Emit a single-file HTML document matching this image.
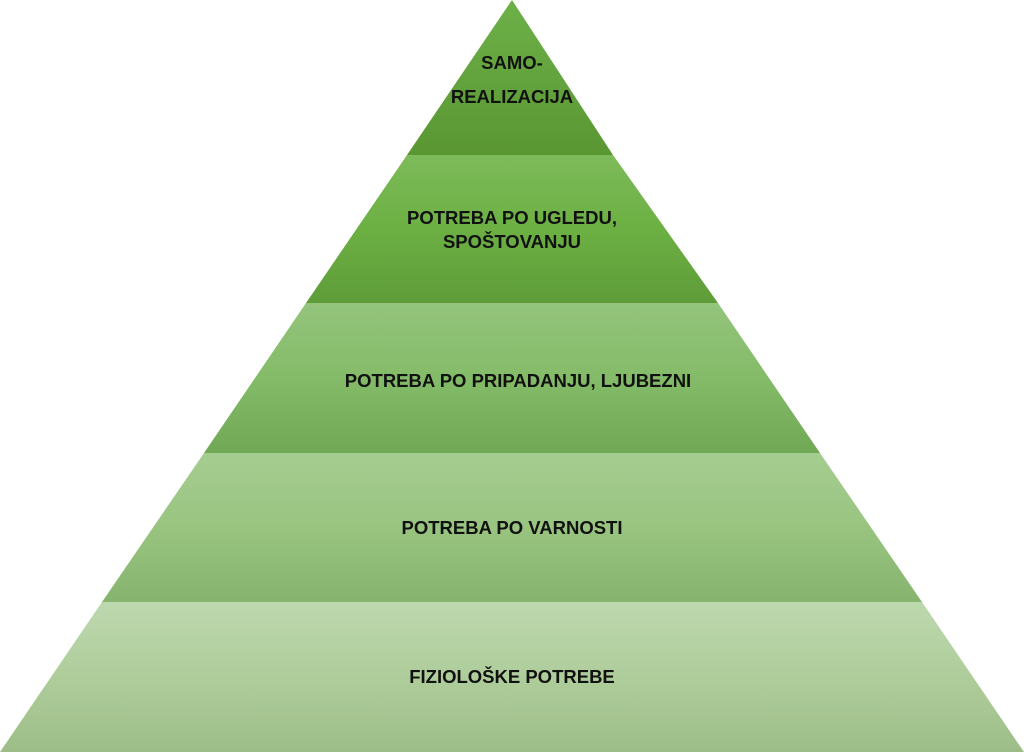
<!DOCTYPE html>
<html><head><meta charset="utf-8"><style>
html,body{margin:0;padding:0;background:#fff;width:1024px;height:752px;overflow:hidden}
svg text{font-family:"Liberation Sans",sans-serif;font-weight:bold;font-size:18.5px;fill:#111;text-anchor:middle}
</style></head><body>
<svg width="1024" height="752" viewBox="0 0 1024 752">
<defs>
<linearGradient id="g1" x1="0" y1="0" x2="0" y2="1"><stop offset="0" stop-color="#6db048"/><stop offset="1" stop-color="#5a9733"/></linearGradient>
<linearGradient id="g2" x1="0" y1="0" x2="0" y2="1"><stop offset="0" stop-color="#7dbb5a"/><stop offset="0.5" stop-color="#6cb043"/><stop offset="1" stop-color="#5e9c39"/></linearGradient>
<linearGradient id="g3" x1="0" y1="0" x2="0" y2="1"><stop offset="0" stop-color="#94c47c"/><stop offset="0.5" stop-color="#84bb68"/><stop offset="1" stop-color="#70a856"/></linearGradient>
<linearGradient id="g4" x1="0" y1="0" x2="0" y2="1"><stop offset="0" stop-color="#a6cd91"/><stop offset="0.5" stop-color="#98c480"/><stop offset="1" stop-color="#86b46e"/></linearGradient>
<linearGradient id="g5" x1="0" y1="0" x2="0" y2="1"><stop offset="0" stop-color="#bdd8ae"/><stop offset="0.5" stop-color="#aecd9b"/><stop offset="1" stop-color="#9dbd88"/></linearGradient>
</defs>
<polygon points="512,0 613,155 407,155" fill="url(#g1)"/>
<polygon points="407,155 613,155 718,303 306,303" fill="url(#g2)"/>
<polygon points="306,303 718,303 820,453 204,453" fill="url(#g3)"/>
<polygon points="204,453 820,453 922,602 102,602" fill="url(#g4)"/>
<polygon points="102,602 922,602 1024,752 0,752" fill="url(#g5)"/>
<text x="512" y="69">SAMO-</text>
<text x="512" y="103">REALIZACIJA</text>
<text x="512" y="224">POTREBA PO UGLEDU,</text>
<text x="512" y="248">SPOŠTOVANJU</text>
<text x="518" y="387">POTREBA PO PRIPADANJU, LJUBEZNI</text>
<text x="512" y="534">POTREBA PO VARNOSTI</text>
<text x="512" y="683">FIZIOLOŠKE POTREBE</text>
</svg>
</body></html>
